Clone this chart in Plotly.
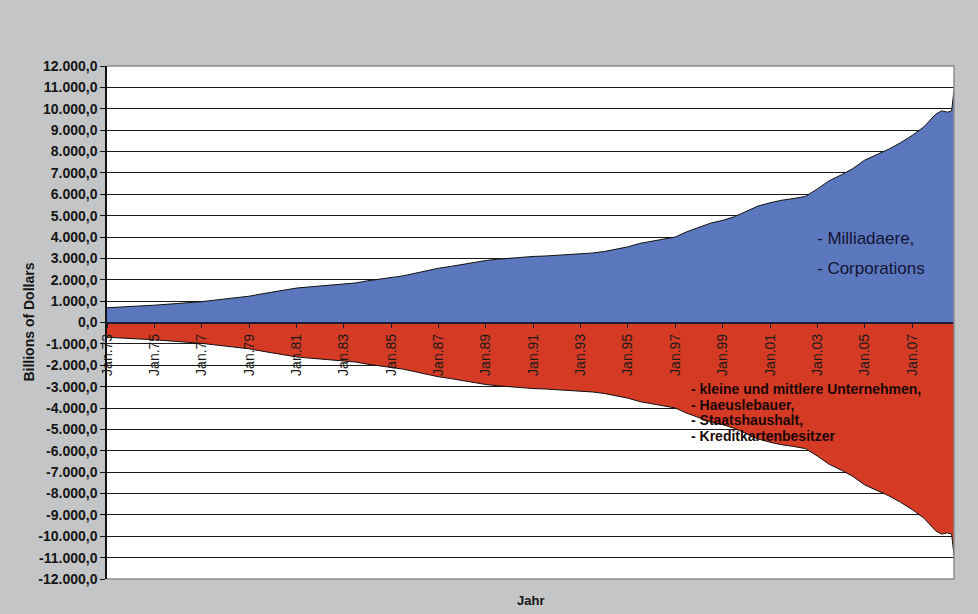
import plotly.graph_objects as go

# Half-yearly readings (billions of dollars), Jan 1973 .. Oct 2008
dates = [
    "1973-01-01", "1973-07-01", "1974-01-01", "1974-07-01", "1975-01-01", "1975-07-01",
    "1976-01-01", "1976-07-01", "1977-01-01", "1977-07-01", "1978-01-01", "1978-07-01",
    "1979-01-01", "1979-07-01", "1980-01-01", "1980-07-01", "1981-01-01", "1981-07-01",
    "1982-01-01", "1982-07-01", "1983-01-01", "1983-07-01", "1984-01-01", "1984-07-01",
    "1985-01-01", "1985-07-01", "1986-01-01", "1986-07-01", "1987-01-01", "1987-07-01",
    "1988-01-01", "1988-07-01", "1989-01-01", "1989-07-01", "1990-01-01", "1990-07-01",
    "1991-01-01", "1991-07-01", "1992-01-01", "1992-07-01", "1993-01-01", "1993-07-01",
    "1994-01-01", "1994-07-01", "1995-01-01", "1995-07-01", "1996-01-01", "1996-07-01",
    "1997-01-01", "1997-07-01", "1998-01-01", "1998-07-01", "1999-01-01", "1999-07-01",
    "2000-01-01", "2000-07-01", "2001-01-01", "2001-07-01", "2002-01-01", "2002-07-01",
    "2003-01-01", "2003-07-01", "2004-01-01", "2004-07-01", "2005-01-01", "2005-07-01",
    "2006-01-01", "2006-07-01", "2007-01-01", "2007-07-01", "2008-01-01", "2008-04-01",
    "2008-07-01", "2008-09-01", "2008-10-08",
]
gains = [
    690, 715, 745, 775, 810, 850,
    885, 925, 975, 1040, 1100, 1160,
    1230, 1330, 1420, 1500, 1610, 1660,
    1700, 1750, 1790, 1850, 1950, 2030,
    2100, 2180, 2300, 2430, 2540, 2620,
    2720, 2810, 2900, 2960, 3010, 3055,
    3090, 3110, 3140, 3170, 3210, 3250,
    3320, 3420, 3540, 3700, 3800, 3900,
    4000, 4250, 4450, 4650, 4780, 4950,
    5200, 5450, 5600, 5720, 5800, 5900,
    6250, 6630, 6900, 7200, 7600, 7850,
    8100, 8400, 8750, 9150, 9750, 9900,
    9840, 9900, 10880,
]
# The other side of the same balance: debt held by everyone else
debts = [-v for v in gains]

year_ticks = list(range(1973, 2008, 2))
x_tickvals = [f"{y}-01-01" for y in year_ticks]
x_ticktext = [f"Jan.{y % 100:02d}" for y in year_ticks]

y_tickvals = list(range(-12000, 12001, 1000))
y_ticktext = ["<b>" + f"{v:,.1f}".replace(",", "X").replace(".", ",").replace("X", ".") + "</b>"
              for v in y_tickvals]

BLUE = "#5b77bd"
RED = "#d53a25"
BG = "#c4c5c7"
FONT = "Liberation Sans, Arial, sans-serif"

fig = go.Figure()
fig.add_trace(go.Scatter(
    x=dates, y=gains, mode="lines", fill="tozeroy",
    fillcolor=BLUE, line=dict(color="#111111", width=1), hoverinfo="skip",
))
fig.add_trace(go.Scatter(
    x=dates, y=debts, mode="lines", fill="tozeroy",
    fillcolor=RED, line=dict(color="#111111", width=1), hoverinfo="skip",
))

fig.update_layout(
    width=978, height=614,
    margin=dict(l=107, r=24, t=66, b=35),
    paper_bgcolor=BG, plot_bgcolor="white",
    showlegend=False,
    font=dict(family=FONT, color="#151515"),
    xaxis=dict(
        type="date", range=["1973-01-01", "2008-10-08"],
        anchor="free", position=0.5,
        showgrid=False, zeroline=False,
        showline=True, linecolor="#1c1c3a", linewidth=1.5,
        ticks="outside", ticklen=5, tickcolor="#1c1c3a",
        tickvals=x_tickvals, ticktext=x_ticktext, tickangle=-90,
        tickfont=dict(size=14, color="#1a1a1a"),
    ),
    yaxis=dict(
        range=[-12000, 12000],
        tickvals=y_tickvals, ticktext=y_ticktext,
        showgrid=True, gridcolor="#1a1a1a", gridwidth=1.2,
        zeroline=False,
        showline=True, linecolor="#111111", linewidth=1.5,
        ticks="outside", ticklen=5, tickcolor="#111111",
        tickfont=dict(size=14, color="#151515"),
    ),
)

# Grey frame on top, right and bottom of the plotting area
fig.add_shape(type="path", xref="paper", yref="paper",
              path="M 0,0 L 1,0 L 1,1 L 0,1",
              line=dict(color="#8c8c8c", width=1.5), layer="above")

# Axis titles
fig.add_annotation(text="<b>Billions of Dollars</b>", xref="paper", yref="paper",
                   x=-0.105, y=0.5, textangle=-90, showarrow=False,
                   font=dict(size=14, color="#151515"))
fig.add_annotation(text="<b>Jahr</b>", xref="paper", yref="paper",
                   x=0.5, y=-0.042, yanchor="middle", showarrow=False,
                   font=dict(size=13, color="#151515"))

# Labels inside the filled areas
fig.add_annotation(text="- Milliadaere,", xref="paper", yref="paper",
                   x=(815 - 107) / 847, y=(579 - 238) / 513, xanchor="left", yanchor="middle",
                   showarrow=False, font=dict(size=17, color="#141432"))
fig.add_annotation(text="- Corporations", xref="paper", yref="paper",
                   x=(815 - 107) / 847, y=(579 - 268) / 513, xanchor="left", yanchor="middle",
                   showarrow=False, font=dict(size=17, color="#141432"))

red_lines = ["- kleine und mittlere Unternehmen,", "- Haeuslebauer,",
             "- Staatshaushalt,", "- Kreditkartenbesitzer"]
for i, line in enumerate(red_lines):
    fig.add_annotation(text=f"<b>{line}</b>", xref="paper", yref="paper",
                       x=(690 - 107) / 847, y=(579 - (389 + 15.7 * i)) / 513,
                       xanchor="left", yanchor="middle", showarrow=False,
                       borderpad=0,
                       font=dict(size=14, color="#1a0808"))

fig.write_html("out.html")
